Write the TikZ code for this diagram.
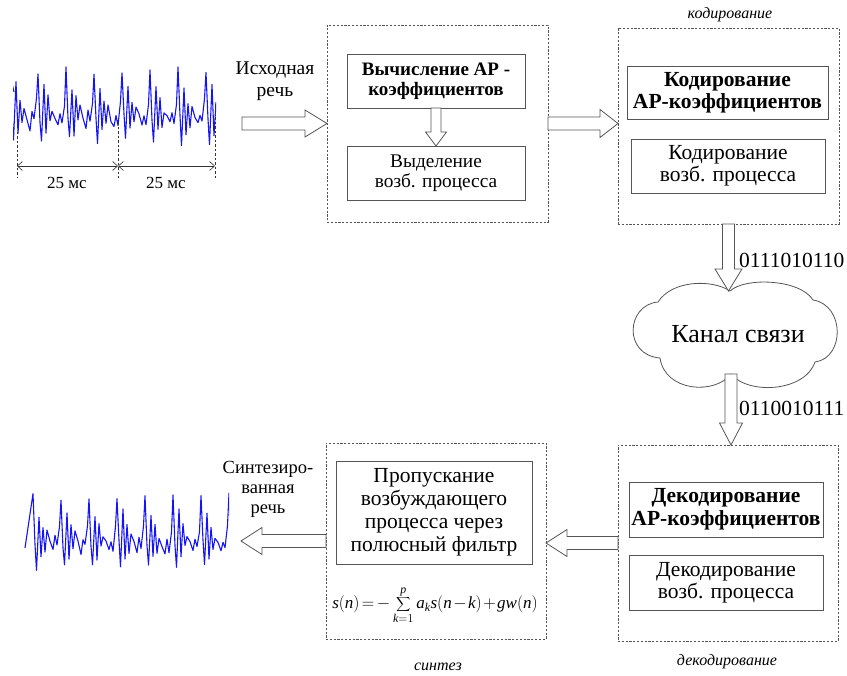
\documentclass[tikz,border=0pt]{standalone}
\usepackage{fontspec}
\setmainfont{LiberationSerif}[Extension=.ttf,UprightFont=*-Regular,BoldFont=*-Bold,ItalicFont=*-Italic,BoldItalicFont=*-BoldItalic]
\usetikzlibrary{arrows.meta,calc}
\newcommand{\arrowR}[5]{\draw[blk] let \p1=(#1),\p2=(#2) in (\x1,\y1+#3) -- (\x2-#5,\y1+#3) -- (\x2-#5,\y1+#4) -- (\x2,\y1) -- (\x2-#5,\y1-#4) -- (\x2-#5,\y1-#3) -- (\x1,\y1-#3) -- cycle;}
\newcommand{\arrowL}[5]{\draw[blk] let \p1=(#1),\p2=(#2) in (\x1,\y1+#3) -- (\x2+#5,\y1+#3) -- (\x2+#5,\y1+#4) -- (\x2,\y1) -- (\x2+#5,\y1-#4) -- (\x2+#5,\y1-#3) -- (\x1,\y1-#3) -- cycle;}
\newcommand{\arrowD}[5]{\draw[blk] let \p1=(#1),\p2=(#2) in (\x1-#3,\y1) -- (\x1-#3,\y2+#5) -- (\x1-#4,\y2+#5) -- (\x1,\y2) -- (\x1+#4,\y2+#5) -- (\x1+#3,\y2+#5) -- (\x1+#3,\y1) -- cycle;}
\definecolor{wave}{RGB}{20,20,245}
\definecolor{edge}{RGB}{85,85,85}
\newcommand{\periodshape}{0/43,2/-5,3.5/-28,6/27,8/-20,10/14,12/-10,14/5,17/-4,20/-13,22/2,24/-8,26.5/10}
\begin{document}
\begin{tikzpicture}[x=1pt,y=-1pt,
  group/.style={draw=edge,dashed,dash pattern=on 2.2pt off 1.6pt,line width=0.7pt,minimum width=#1,inner sep=0pt,outer sep=0pt},
  inbox/.style={draw=edge,line width=0.9pt,inner sep=0pt,outer sep=0pt,align=center},
  blk/.style={draw=edge,line width=0.8pt,fill=white},
  lbl/.style={align=center,inner sep=0pt},
  itl/.style={inner sep=0pt,font=\fontsize{16}{18}\selectfont\itshape},
  sig/.style={draw=wave,line width=1.1pt,line join=round},
  dim/.style={draw=black!80,line width=0.6pt,{Straight Barb[length=5pt,width=9pt]}-{Straight Barb[length=5pt,width=9pt]}},
  vdash/.style={draw=black!80,dashed,dash pattern=on 2.5pt off 2pt,line width=0.6pt}]
\useasboundingbox (0,0) rectangle (847,676);
\pgfmathsetseed{4711}
% input waveform
\begin{scope}
\clip (13,50) rectangle (216,160);
\coordinate (w0) at (14,92);
\draw[sig] (w0) \foreach \p in {0,...,7}{ \foreach \dx/\u in \periodshape { -- ({14+28*\p+\dx-4},{113-\u-5*rand}) } };
\end{scope}
\coordinate (v1) at (17,132); \coordinate (v1b) at (17,178);
\coordinate (v2) at (118,118); \coordinate (v2b) at (118,178);
\coordinate (v3) at (215,104); \coordinate (v3b) at (215,178);
\draw[vdash] (v1) -- (v1b);
\draw[vdash] (v2) -- (v2b);
\draw[vdash] (v3) -- (v3b);
\coordinate (d1) at (17,166); \coordinate (d2) at (118,166); \coordinate (d3) at (215,166);
\draw[dim] (d1) -- (d2);
\draw[dim] (d2) -- (d3);
\node[lbl,font=\fontsize{17}{18}\selectfont] (t25a) at (67,183) {25 мс};
\node[lbl,font=\fontsize{17}{18}\selectfont] (t25b) at (166,183) {25 мс};
\node[lbl,font=\fontsize{19.5}{22}\selectfont] (src) at (275,81) {Исходная\\речь};
% groups
\node[group=221pt,minimum height=197pt] (g1) at (437.5,123.5) {};
\node[group=221pt,minimum height=196pt] (g2) at (728.5,126) {};
\node[group=220pt,minimum height=196pt] (g3) at (728,543) {};
\node[group=220pt,minimum height=196pt] (g4) at (436,541) {};
\node[itl] (lcod) at (730,15) {кодирование};
\node[itl] (ldec) at (727,662) {декодирование};
\node[itl] (lsyn) at (438,667) {синтез};
% inner boxes
\node[inbox,minimum width=178pt,minimum height=54pt,font=\fontsize{19}{20}\selectfont\bfseries] (b1a) at (436,81) {Вычисление АР -\\коэффициентов};
\node[inbox,minimum width=178pt,minimum height=54pt,font=\fontsize{19.3}{20}\selectfont] (b1b) at (436,173) {Выделение\\возб. процесса};
\node[inbox,minimum width=201pt,minimum height=53pt,font=\fontsize{21.5}{22}\selectfont\bfseries] (b2a) at (727.5,92.5) {Кодирование\\АР-коэффициентов};
\node[inbox,minimum width=194pt,minimum height=54pt,font=\fontsize{21.5}{22}\selectfont] (b2b) at (728,166) {Кодирование\\возб. процесса};
\node[inbox,minimum width=194pt,minimum height=55pt,font=\fontsize{21.5}{23}\selectfont\bfseries] (b3a) at (726,509.5) {Декодирование\\АР-коэффициентов};
\node[inbox,minimum width=194pt,minimum height=55pt,font=\fontsize{21.5}{22}\selectfont] (b3b) at (726,582.5) {Декодирование\\возб. процесса};
\node[inbox,minimum width=196pt,minimum height=103pt,font=\fontsize{21.5}{23}\selectfont] (b4a) at (434,512.5) {Пропускание\\возбуждающего\\процесса через\\полюсный фильтр};
\node[inner sep=0pt,font=\fontsize{17}{19}\selectfont] (eq) at (435,605) {\medmuskip=1.5mu\thickmuskip=2.5mu$\displaystyle \mathit{s}(\mathit{n})=-\sum_{\mathit{k}=1}^{\mathit{p}}\mathit{a}_{\mathit{k}}\mathit{s}(\mathit{n}-\mathit{k})+\mathit{gw}(\mathit{n})$};
% cloud
\coordinate (ctop) at (730,291);
\coordinate (cbot) at (731,374);
\draw[draw=edge,line width=0.8pt,fill=white] (ctop) .. controls (712,279) and (672,280) .. (658,302)
  .. controls (626,305) and (623,355) .. (660,358)
  .. controls (665,392) and (715,395) .. (cbot)
  .. controls (748,395) and (805,392) .. (815,362)
  .. controls (845,358) and (845,305) .. (813,300)
  .. controls (800,279) and (745,277) .. (ctop) -- cycle;
\node[inner sep=0pt,font=\fontsize{26}{28}\selectfont] (chan) at (738,334) {Канал связи};
% arrows
\coordinate (a0) at (242,123.5);
\arrowR{a0}{g1.west}{6.5pt}{13.5pt}{22pt}
\arrowR{g1.east}{g1.east -| g2.west}{6.5pt}{14pt}{18pt}
\arrowD{b1a.south}{b1b.north}{5pt}{10.5pt}{14pt}
\arrowD{g2.south}{ctop}{6pt}{13.5pt}{22pt}
\arrowD{cbot}{g3.north}{6pt}{11.5pt}{22pt}
\arrowL{g3.west}{g3.west -| g4.east}{6.5pt}{13.5pt}{21pt}
\coordinate (a9) at (241,541);
\arrowL{g4.west}{a9}{6.5pt}{13.5pt}{21pt}
\node[anchor=west,inner sep=0pt,font=\fontsize{21.5}{23}\selectfont] (bits1) at (739,260) {0111010110};
\node[anchor=west,inner sep=0pt,font=\fontsize{21.5}{23}\selectfont] (bits2) at (739,408) {0110010111};
% output
\node[lbl,font=\fontsize{18.5}{20}\selectfont] (out) at (268,489) {Синтезиро-\\ванная\\речь};
\begin{scope}
\clip (24,480) rectangle (229,590);
\coordinate (w1) at (25,548);
\draw[sig] (w1) \foreach \p in {0,...,7}{ \foreach \dx/\u in \periodshape { -- ({25+28*\p+\dx+8},{540-\u-5*rand}) } };
\end{scope}
\end{tikzpicture}
\end{document}
